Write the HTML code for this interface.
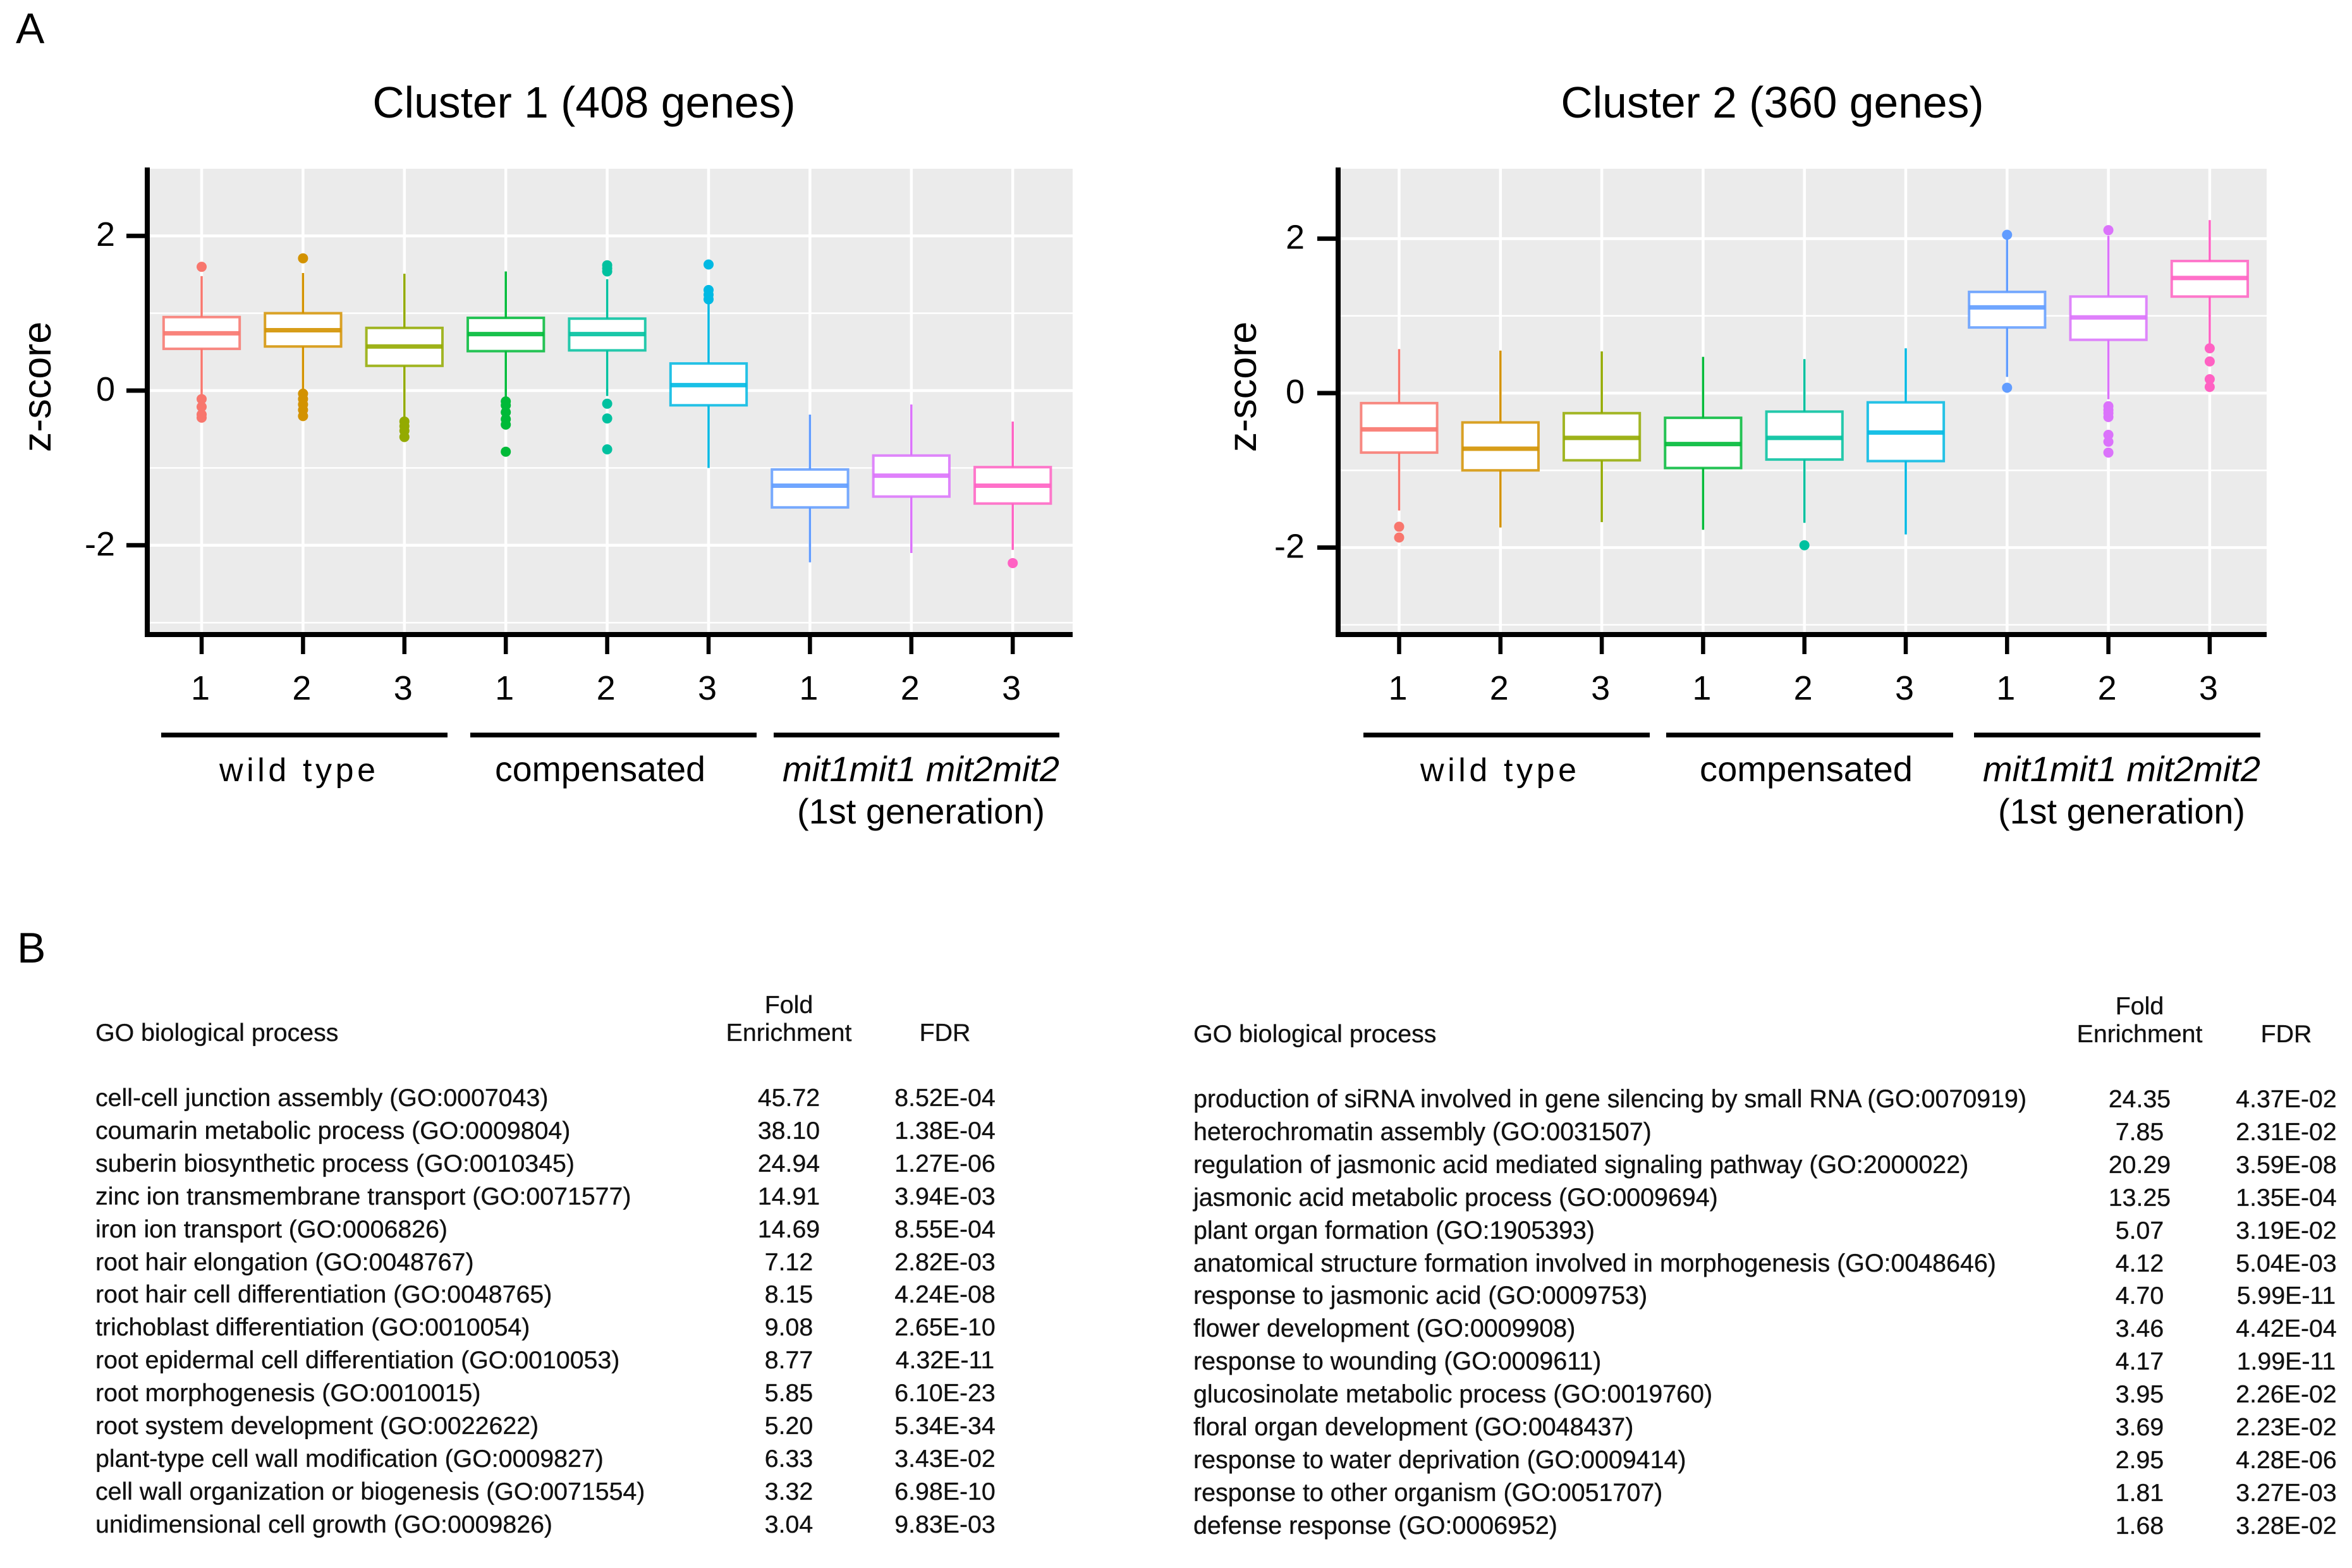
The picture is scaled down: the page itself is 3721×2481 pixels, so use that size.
<!DOCTYPE html>
<html lang="en">
<head>
<meta charset="utf-8">
<title>Cluster boxplots and GO enrichment</title>
<style>
html,body{margin:0;padding:0;background:#fff;}
svg{display:block;}
text{font-family:"Liberation Sans",Arial,sans-serif;fill:#000;}
.row text,.hdr text{font-size:39.3px;fill:#111;stroke:#111;stroke-width:0.35px;}
.wide text{font-size:39.4px;}
.mid{text-anchor:middle;}
.grp{font-size:56px;}
</style>
</head>
<body>
<svg id="figure" xmlns="http://www.w3.org/2000/svg" width="3721" height="2481" viewBox="0 0 3721 2481">
<rect x="0" y="0" width="3721" height="2481" fill="#fff"/>
<text x="25" y="68" font-size="68">A</text>
<text x="27" y="1523" font-size="68">B</text>
<text x="924" y="186" font-size="69.6" text-anchor="middle">Cluster 1 (408 genes)</text>
<text x="2804" y="186" font-size="69.6" text-anchor="middle">Cluster 2 (360 genes)</text>
<text transform="translate(80,612) rotate(-90)" font-size="63" text-anchor="middle">z-score</text>
<text transform="translate(1987,612) rotate(-90)" font-size="63" text-anchor="middle">z-score</text>
<g id="chart-1"></g>
<g id="chart-2"></g>

<g stroke="#000" stroke-width="7.5">
<line x1="255" x2="708" y1="1163" y2="1163"/>
<line x1="744" x2="1197" y1="1163" y2="1163"/>
<line x1="1224" x2="1676" y1="1163" y2="1163"/>
</g>
<g stroke="#000" stroke-width="7.5">
<line x1="2157" x2="2610" y1="1163" y2="1163"/>
<line x1="2636" x2="3090" y1="1163" y2="1163"/>
<line x1="3123" x2="3576" y1="1163" y2="1163"/>
</g>
<g class="grp">
<text x="347" y="1236" textLength="247" lengthAdjust="spacing" font-size="52">wild type</text>
<text x="783" y="1236" textLength="333" lengthAdjust="spacingAndGlyphs">compensated</text>
<text x="1238" y="1236" textLength="438" lengthAdjust="spacingAndGlyphs" font-style="italic">mit1mit1 mit2mit2</text>
<text x="1261" y="1303" textLength="392" lengthAdjust="spacingAndGlyphs">(1st generation)</text>
</g>
<g class="grp">
<text x="2247" y="1236" textLength="247" lengthAdjust="spacing" font-size="52">wild type</text>
<text x="2689" y="1236" textLength="337" lengthAdjust="spacingAndGlyphs">compensated</text>
<text x="3137" y="1236" textLength="439" lengthAdjust="spacingAndGlyphs" font-style="italic">mit1mit1 mit2mit2</text>
<text x="3161" y="1303" textLength="391" lengthAdjust="spacingAndGlyphs">(1st generation)</text>
</g>

<g class="hdr">
<text x="151" y="1647">GO biological process</text>
<text class="mid" x="1248" y="1603">Fold</text>
<text class="mid" x="1248" y="1647">Enrichment</text>
<text class="mid" x="1495" y="1647">FDR</text>
</g>
<g class="row">
<text x="151" y="1750">cell-cell junction assembly (GO:0007043)</text>
<text x="151" y="1802">coumarin metabolic process (GO:0009804)</text>
<text x="151" y="1854">suberin biosynthetic process (GO:0010345)</text>
<text x="151" y="1906">zinc ion transmembrane transport (GO:0071577)</text>
<text x="151" y="1958">iron ion transport (GO:0006826)</text>
<text x="151" y="2010">root hair elongation (GO:0048767)</text>
<text x="151" y="2061">root hair cell differentiation (GO:0048765)</text>
<text x="151" y="2113">trichoblast differentiation (GO:0010054)</text>
<text x="151" y="2165">root epidermal cell differentiation (GO:0010053)</text>
<text x="151" y="2217">root morphogenesis (GO:0010015)</text>
<text x="151" y="2269">root system development (GO:0022622)</text>
<text x="151" y="2321">plant-type cell wall modification (GO:0009827)</text>
<text x="151" y="2373">cell wall organization or biogenesis (GO:0071554)</text>
<text x="151" y="2425">unidimensional cell growth (GO:0009826)</text>
</g>
<g class="row">
<text class="mid" x="1248" y="1750">45.72</text>
<text class="mid" x="1248" y="1802">38.10</text>
<text class="mid" x="1248" y="1854">24.94</text>
<text class="mid" x="1248" y="1906">14.91</text>
<text class="mid" x="1248" y="1958">14.69</text>
<text class="mid" x="1248" y="2010">7.12</text>
<text class="mid" x="1248" y="2061">8.15</text>
<text class="mid" x="1248" y="2113">9.08</text>
<text class="mid" x="1248" y="2165">8.77</text>
<text class="mid" x="1248" y="2217">5.85</text>
<text class="mid" x="1248" y="2269">5.20</text>
<text class="mid" x="1248" y="2321">6.33</text>
<text class="mid" x="1248" y="2373">3.32</text>
<text class="mid" x="1248" y="2425">3.04</text>
</g>
<g class="row">
<text class="mid" x="1495" y="1750">8.52E-04</text>
<text class="mid" x="1495" y="1802">1.38E-04</text>
<text class="mid" x="1495" y="1854">1.27E-06</text>
<text class="mid" x="1495" y="1906">3.94E-03</text>
<text class="mid" x="1495" y="1958">8.55E-04</text>
<text class="mid" x="1495" y="2010">2.82E-03</text>
<text class="mid" x="1495" y="2061">4.24E-08</text>
<text class="mid" x="1495" y="2113">2.65E-10</text>
<text class="mid" x="1495" y="2165">4.32E-11</text>
<text class="mid" x="1495" y="2217">6.10E-23</text>
<text class="mid" x="1495" y="2269">5.34E-34</text>
<text class="mid" x="1495" y="2321">3.43E-02</text>
<text class="mid" x="1495" y="2373">6.98E-10</text>
<text class="mid" x="1495" y="2425">9.83E-03</text>
</g>

<g class="hdr">
<text x="1888" y="1649">GO biological process</text>
<text class="mid" x="3385" y="1605">Fold</text>
<text class="mid" x="3385" y="1649">Enrichment</text>
<text class="mid" x="3617" y="1649">FDR</text>
</g>
<g class="row wide">
<text x="1888" y="1752">production of siRNA involved in gene silencing by small RNA (GO:0070919)</text>
<text x="1888" y="1804">heterochromatin assembly (GO:0031507)</text>
<text x="1888" y="1856">regulation of jasmonic acid mediated signaling pathway (GO:2000022)</text>
<text x="1888" y="1908">jasmonic acid metabolic process (GO:0009694)</text>
<text x="1888" y="1960">plant organ formation (GO:1905393)</text>
<text x="1888" y="2012">anatomical structure formation involved in morphogenesis (GO:0048646)</text>
<text x="1888" y="2063">response to jasmonic acid (GO:0009753)</text>
<text x="1888" y="2115">flower development (GO:0009908)</text>
<text x="1888" y="2167">response to wounding (GO:0009611)</text>
<text x="1888" y="2219">glucosinolate metabolic process (GO:0019760)</text>
<text x="1888" y="2271">floral organ development (GO:0048437)</text>
<text x="1888" y="2323">response to water deprivation (GO:0009414)</text>
<text x="1888" y="2375">response to other organism (GO:0051707)</text>
<text x="1888" y="2427">defense response (GO:0006952)</text>
</g>
<g class="row">
<text class="mid" x="3385" y="1752">24.35</text>
<text class="mid" x="3385" y="1804">7.85</text>
<text class="mid" x="3385" y="1856">20.29</text>
<text class="mid" x="3385" y="1908">13.25</text>
<text class="mid" x="3385" y="1960">5.07</text>
<text class="mid" x="3385" y="2012">4.12</text>
<text class="mid" x="3385" y="2063">4.70</text>
<text class="mid" x="3385" y="2115">3.46</text>
<text class="mid" x="3385" y="2167">4.17</text>
<text class="mid" x="3385" y="2219">3.95</text>
<text class="mid" x="3385" y="2271">3.69</text>
<text class="mid" x="3385" y="2323">2.95</text>
<text class="mid" x="3385" y="2375">1.81</text>
<text class="mid" x="3385" y="2427">1.68</text>
</g>
<g class="row">
<text class="mid" x="3617" y="1752">4.37E-02</text>
<text class="mid" x="3617" y="1804">2.31E-02</text>
<text class="mid" x="3617" y="1856">3.59E-08</text>
<text class="mid" x="3617" y="1908">1.35E-04</text>
<text class="mid" x="3617" y="1960">3.19E-02</text>
<text class="mid" x="3617" y="2012">5.04E-03</text>
<text class="mid" x="3617" y="2063">5.99E-11</text>
<text class="mid" x="3617" y="2115">4.42E-04</text>
<text class="mid" x="3617" y="2167">1.99E-11</text>
<text class="mid" x="3617" y="2219">2.26E-02</text>
<text class="mid" x="3617" y="2271">2.23E-02</text>
<text class="mid" x="3617" y="2323">4.28E-06</text>
<text class="mid" x="3617" y="2375">3.27E-03</text>
<text class="mid" x="3617" y="2427">3.28E-02</text>
</g>
</svg>

<script>
// Data
const replicateLabels = ['1','2','3','1','2','3','1','2','3'];
const yTickValues = [2, 0, -2];
const yMinorValues = [1, -1, -3];
const boxColors = ['#F8766D','#D39200','#93AA00','#00BA38','#00C19F','#00B9E3','#619CFF','#DB72FB','#FF61C3'];

const cluster1Q1 = [0.54, 0.57, 0.32, 0.51, 0.52, -0.19, -1.51, -1.37, -1.46];
const cluster1Median = [0.74, 0.78, 0.57, 0.73, 0.73, 0.07, -1.23, -1.10, -1.23];
const cluster1Q3 = [0.95, 1.00, 0.81, 0.94, 0.93, 0.35, -1.02, -0.84, -0.99];
const cluster1WhiskerLow = [-0.05, 0.00, -0.37, -0.08, -0.07, -1.00, -2.22, -2.10, -2.06];
const cluster1WhiskerHigh = [1.48, 1.52, 1.51, 1.54, 1.44, 1.12, -0.31, -0.18, -0.40];
const cluster1Outliers = [
  [1.60, -0.11, -0.21, -0.31, -0.35],
  [1.71, -0.04, -0.11, -0.18, -0.25, -0.33],
  [-0.40, -0.46, -0.52, -0.60],
  [-0.14, -0.19, -0.28, -0.37, -0.44, -0.79],
  [1.62, 1.58, 1.54, -0.17, -0.36, -0.76],
  [1.63, 1.30, 1.24, 1.18],
  [],
  [],
  [-2.23]
];

const cluster2Q1 = [-0.77, -1.00, -0.87, -0.97, -0.86, -0.88, 0.85, 0.69, 1.25];
const cluster2Median = [-0.47, -0.72, -0.58, -0.66, -0.58, -0.51, 1.11, 0.98, 1.49];
const cluster2Q3 = [-0.13, -0.38, -0.26, -0.32, -0.24, -0.12, 1.31, 1.25, 1.71];
const cluster2WhiskerLow = [-1.52, -1.74, -1.67, -1.77, -1.68, -1.83, 0.21, -0.08, 0.64];
const cluster2WhiskerHigh = [0.57, 0.55, 0.54, 0.47, 0.44, 0.58, 1.99, 2.04, 2.24];
const cluster2Outliers = [
  [-1.73, -1.87],
  [],
  [],
  [],
  [-1.97],
  [],
  [2.05, 0.07],
  [2.11, -0.17, -0.22, -0.26, -0.31, -0.54, -0.63, -0.77],
  [0.58, 0.41, 0.18, 0.08]
];

const SVGNS = 'http://www.w3.org/2000/svg';
function make(parent, tag, attrs, text) {
  const el = document.createElementNS(SVGNS, tag);
  for (const k in attrs) el.setAttribute(k, attrs[k]);
  if (text !== undefined) el.textContent = text;
  parent.appendChild(el);
  return el;
}

function drawBoxplot(root, geom, q1, med, q3, lo, hi, outliers) {
  const xScale = i => geom.x0 + i * geom.step;
  const yScale = v => geom.y0 - v * geom.unit;
  const boxW = geom.step * 0.75;

  const bg = make(root, 'rect', {x: geom.left, y: geom.top, width: geom.right - geom.left, height: geom.bottom - geom.top, fill: '#EBEBEB'});
  
  

  yMinorValues.forEach(v => {
    const g = make(root, 'line', {x1: geom.left, x2: geom.right, y1: yScale(v), y2: yScale(v), stroke: '#fff', 'stroke-width': 2.5});
    
    
  });
  yTickValues.forEach(v => {
    const g = make(root, 'line', {x1: geom.left, x2: geom.right, y1: yScale(v), y2: yScale(v), stroke: '#fff', 'stroke-width': 4.5});
    
    
  });
  replicateLabels.forEach((_, i) => {
    const g = make(root, 'line', {x1: xScale(i), x2: xScale(i), y1: geom.top, y2: geom.bottom, stroke: '#fff', 'stroke-width': 4.5});
    
    
  });

  replicateLabels.forEach((_, i) => {
    const cx = xScale(i), col = boxColors[i];
    const whisker = make(root, 'line', {x1: cx, x2: cx, y1: yScale(hi[i]), y2: yScale(lo[i]), stroke: col, 'stroke-width': 3.5});
    
    

    const box = make(root, 'rect', {x: cx - boxW / 2, y: yScale(q3[i]), width: boxW, height: yScale(q1[i]) - yScale(q3[i]), fill: '#fff', stroke: col, 'stroke-width': 4, 'stroke-opacity': 0.85});
    
    

    const median = make(root, 'line', {x1: cx - boxW / 2, x2: cx + boxW / 2, y1: yScale(med[i]), y2: yScale(med[i]), stroke: col, 'stroke-width': 7, 'stroke-opacity': 0.9});
    
    

    outliers[i].forEach(v => {
      const dot = make(root, 'circle', {cx: cx, cy: yScale(v), r: 8, fill: col});
      
      
    });
  });

  const yAxis = make(root, 'line', {x1: geom.axisX, x2: geom.axisX, y1: 265, y2: geom.axisY + 4, stroke: '#000', 'stroke-width': 8});
  
  
  const xAxis = make(root, 'line', {x1: geom.axisX - 4, x2: geom.right, y1: geom.axisY, y2: geom.axisY, stroke: '#000', 'stroke-width': 8});
  
  

  yTickValues.forEach(v => {
    const tick = make(root, 'line', {x1: geom.axisX - 33, x2: geom.axisX, y1: yScale(v), y2: yScale(v), stroke: '#000', 'stroke-width': 7});
    
    
    const label = make(root, 'text', {x: geom.labelX, y: yScale(v) + 16, 'font-size': 54, 'text-anchor': 'end'}, String(v));
    
    
  });

  replicateLabels.forEach((lab, i) => {
    const tick = make(root, 'line', {x1: xScale(i), x2: xScale(i), y1: geom.axisY, y2: 1035, stroke: '#000', 'stroke-width': 6.5});
    
    
    const label = make(root, 'text', {x: xScale(i) - 2, y: 1107, 'font-size': 54, 'text-anchor': 'middle'}, lab);
    
    
  });
}

drawBoxplot(document.getElementById('chart-1'),
  {x0: 319, step: 160.4, y0: 618, unit: 122.4, left: 236, right: 1697, top: 267, bottom: 1004, axisX: 233, axisY: 1004, labelX: 182},
  cluster1Q1, cluster1Median, cluster1Q3, cluster1WhiskerLow, cluster1WhiskerHigh, cluster1Outliers);
drawBoxplot(document.getElementById('chart-2'),
  {x0: 2213.5, step: 160.3, y0: 622, unit: 122.2, left: 2120, right: 3586, top: 267, bottom: 1004, axisX: 2117, axisY: 1004, labelX: 2064},
  cluster2Q1, cluster2Median, cluster2Q3, cluster2WhiskerLow, cluster2WhiskerHigh, cluster2Outliers);
</script>
</body>
</html>
